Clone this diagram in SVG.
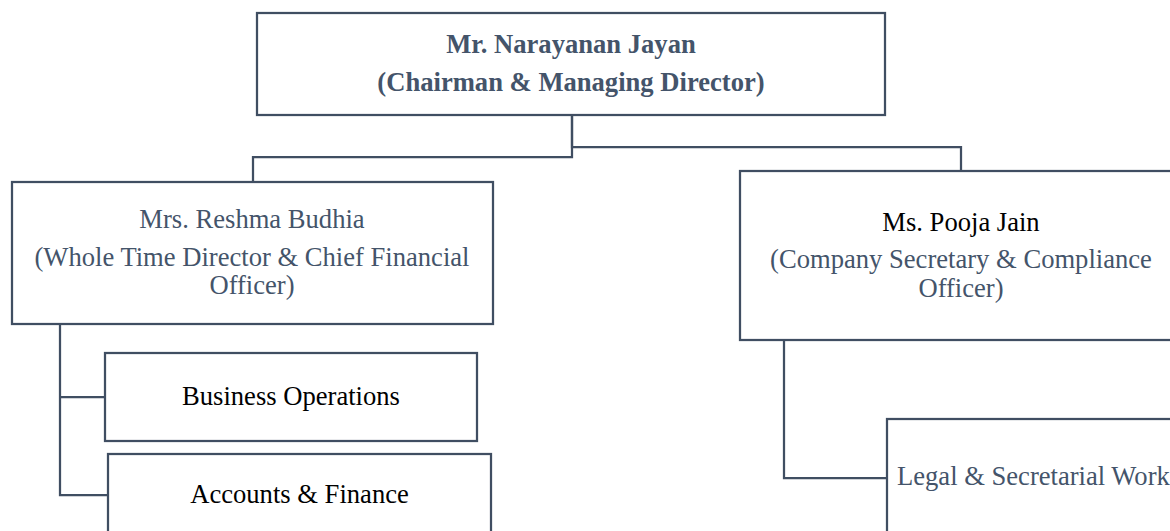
<svg xmlns="http://www.w3.org/2000/svg" width="1170" height="531" viewBox="0 0 1170 531">
<style>
.box{fill:#ffffff;stroke:#404e62;stroke-width:2.25}
.conn{fill:none;stroke:#404e62;stroke-width:2.25}
.t{font-family:"Liberation Serif","Times New Roman",serif;font-size:26.6px;text-anchor:middle}
.b{font-weight:bold}
.g{fill:#44546a}
.k{fill:#000000}
</style>
<rect width="1170" height="531" fill="#ffffff"/>
<g id="connectors">
<polyline class="conn" points="572,115 572,157 253,157 253,182"/>
<polyline class="conn" points="572,115 572,147 961,147 961,171"/>
<polyline class="conn" points="60,324 60,495 108,495"/>
<polyline class="conn" points="60,397 105,397"/>
<polyline class="conn" points="784,340 784,478 887,478"/>
</g>
<g id="chairman">
<rect class="box" x="257" y="13" width="628" height="102"/>
<text class="t b g" x="571" y="52.7">Mr. Narayanan Jayan</text>
<text class="t b g" x="571" y="90.7">(Chairman &amp; Managing Director)</text>
</g>
<g id="cfo">
<rect class="box" x="12" y="182" width="481" height="142"/>
<text class="t g" x="252" y="228.3">Mrs. Reshma Budhia</text>
<text class="t g" x="252" y="266">(Whole Time Director &amp; Chief Financial</text>
<text class="t g" x="252" y="294">Officer)</text>
</g>
<g id="business-operations">
<rect class="box" x="105" y="353" width="372" height="88"/>
<text class="t k" x="291" y="405">Business Operations</text>
</g>
<g id="accounts-finance">
<rect class="box" x="108" y="454" width="383" height="100"/>
<text class="t k" x="299.5" y="502.7">Accounts &amp; Finance</text>
</g>
<g id="company-secretary">
<rect class="box" x="740" y="171" width="442" height="169"/>
<text class="t k" x="961" y="230.7">Ms. Pooja Jain</text>
<text class="t g" x="961" y="268.3">(Company Secretary &amp; Compliance</text>
<text class="t g" x="961" y="296.7">Officer)</text>
</g>
<g id="legal-secretarial">
<rect class="box" x="887" y="419" width="300" height="140"/>
<text class="t g" x="897" y="485" style="text-anchor:start">Legal &amp; Secretarial Work</text>
</g>
</svg>
